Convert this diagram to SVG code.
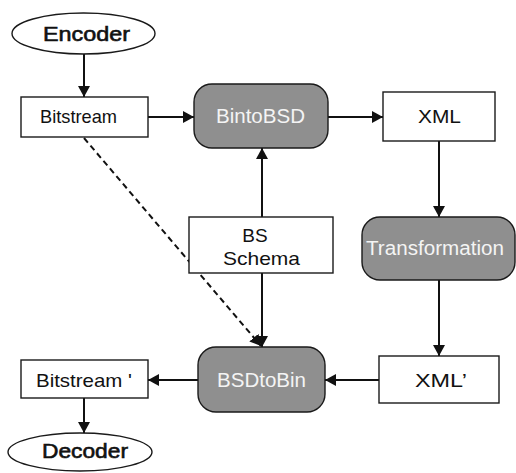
<svg xmlns="http://www.w3.org/2000/svg" width="516" height="473" viewBox="0 0 516 473">
<style>
  .box { fill: #ffffff; stroke: #1a1a1a; stroke-width: 1.4; }
  .proc { fill: #8f8f8f; stroke: #1a1a1a; stroke-width: 1.4; }
  .lbl { font-family: "Liberation Sans", Arial, sans-serif; font-size: 19px; fill: #111; text-anchor: middle; }
  .wl { font-family: "Liberation Sans", Arial, sans-serif; font-size: 19.5px; fill: #f4f4f4; text-anchor: middle; }
  .big { font-family: "Liberation Sans", Arial, sans-serif; font-size: 20px; fill: #111; stroke: #111; stroke-width: 0.6; text-anchor: middle; }
  .conn { stroke: #111; stroke-width: 2; fill: none; }
  .dash { stroke: #111; stroke-width: 2; fill: none; stroke-dasharray: 6 4; }
</style>
<defs>
  <marker id="ah" markerUnits="userSpaceOnUse" markerWidth="12" markerHeight="12" refX="11" refY="6" orient="auto">
    <path d="M0,0 L11,6 L0,12 z" fill="#111"/>
  </marker>
</defs>
<g id="connectors">
  <line class="conn" x1="84" y1="54" x2="84" y2="97" marker-end="url(#ah)"/>
  <line class="conn" x1="148" y1="117" x2="194" y2="117" marker-end="url(#ah)"/>
  <line class="conn" x1="328" y1="117" x2="383" y2="117" marker-end="url(#ah)"/>
  <line class="conn" x1="439" y1="141" x2="439" y2="217" marker-end="url(#ah)"/>
  <line class="conn" x1="262" y1="217" x2="262" y2="148" marker-end="url(#ah)"/>
  <line class="conn" x1="262" y1="273" x2="262" y2="347" marker-end="url(#ah)"/>
  <line class="conn" x1="439" y1="280" x2="439" y2="356" marker-end="url(#ah)"/>
  <line class="conn" x1="379" y1="380" x2="325" y2="380" marker-end="url(#ah)"/>
  <line class="conn" x1="198" y1="380" x2="148" y2="380" marker-end="url(#ah)"/>
  <line class="conn" x1="84" y1="398" x2="84" y2="433" marker-end="url(#ah)"/>
  <line class="dash" x1="84" y1="138" x2="261" y2="346" marker-end="url(#ah)"/>
</g>
<g id="encoder">
  <ellipse cx="83.5" cy="33.5" rx="71.5" ry="20.5" class="box"/>
  <text class="big" x="86.5" y="41" textLength="87" lengthAdjust="spacingAndGlyphs">Encoder</text>
</g>
<g id="bitstream">
  <rect x="21" y="97" width="127" height="40" class="box"/>
  <text class="lbl" x="78.5" y="123" textLength="77" lengthAdjust="spacingAndGlyphs">Bitstream</text>
</g>
<g id="bintobsd">
  <rect x="194" y="84" width="134" height="64" rx="18" class="proc"/>
  <text class="wl" x="260.5" y="123" textLength="89" lengthAdjust="spacingAndGlyphs">BintoBSD</text>
</g>
<g id="xml">
  <rect x="383" y="92" width="112" height="49" class="box"/>
  <text class="lbl" x="439.5" y="123" textLength="43" lengthAdjust="spacingAndGlyphs">XML</text>
</g>
<g id="bsschema">
  <rect x="189" y="217" width="144" height="56" class="box"/>
  <text class="lbl" x="255" y="242">BS</text>
  <text class="lbl" x="261.5" y="265" textLength="77" lengthAdjust="spacingAndGlyphs">Schema</text>
</g>
<g id="transformation">
  <rect x="362" y="217" width="153" height="63" rx="18" class="proc"/>
  <text class="wl" x="435" y="255" textLength="138" lengthAdjust="spacingAndGlyphs">Transformation</text>
</g>
<g id="xmlprime">
  <rect x="379" y="356" width="120" height="47" class="box"/>
  <text class="lbl" x="441" y="387" textLength="52" lengthAdjust="spacingAndGlyphs">XML’</text>
</g>
<g id="bsdtobin">
  <rect x="198" y="347" width="127" height="65" rx="18" class="proc"/>
  <text class="wl" x="261.5" y="387" textLength="89" lengthAdjust="spacingAndGlyphs">BSDtoBin</text>
</g>
<g id="bitstreamprime">
  <rect x="21" y="360" width="127" height="38" class="box"/>
  <text class="lbl" x="84" y="387" textLength="96" lengthAdjust="spacingAndGlyphs">Bitstream '</text>
</g>
<g id="decoder">
  <ellipse cx="80" cy="452" rx="72" ry="19" class="box"/>
  <text class="big" x="85" y="458" textLength="86" lengthAdjust="spacingAndGlyphs">Decoder</text>
</g>
</svg>
